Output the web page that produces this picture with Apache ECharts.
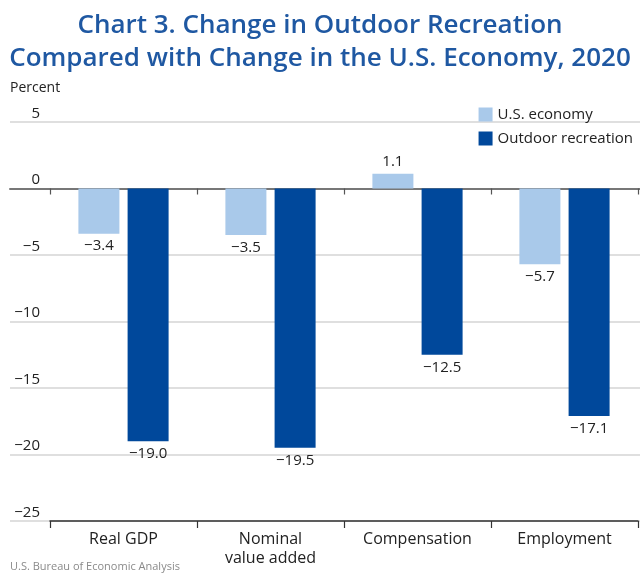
<!DOCTYPE html>
<html>
<head>
<meta charset="utf-8">
<script src="https://cdn.jsdelivr.net/npm/echarts@6/dist/echarts.min.js"></script>
<style>
  html, body { margin: 0; padding: 0; background: #fff; }
  #chart { width: 640px; height: 577px; }
</style>
</head>
<body>
<div id="chart"></div>
<script>
// Percent change in 2020
const categories = ['Real GDP', 'Nominal\nvalue added', 'Compensation', 'Employment'];
const usEconomy = [-3.4, -3.5, 1.1, -5.7];
const outdoorRecreation = [-19.0, -19.5, -12.5, -17.1];
const yTicks = { min: -25, max: 5, step: 5 };

const FONT = '"Open Sans", "Noto Sans", sans-serif';
const LIGHT = '#a9c9ea';
const DARK = '#00489b';

const minus = s => String(s).replace('-', '\u2212');

function barData(values) {
  return values.map(v => ({
    value: v,
    label: { position: v < 0 ? 'bottom' : 'top' }
  }));
}

const chart = echarts.init(document.getElementById('chart'), null, { renderer: 'canvas' });

const gridTop = 122, gridBottom = 56;

chart.setOption({
  animation: false,
  textStyle: { fontFamily: FONT },
  title: {
    text: 'Chart 3. Change in Outdoor Recreation\nCompared with Change in the U.S. Economy, 2020',
    left: 'center',
    top: 4,
    textStyle: {
      fontFamily: FONT,
      fontSize: 26,
      lineHeight: 33,
      fontWeight: 600,
      color: '#1f58a2'
    }
  },
  legend: {
    orient: 'vertical',
    right: 2,
    top: 102,
    icon: 'rect',
    itemWidth: 14,
    itemHeight: 14,
    itemGap: 9,
    textStyle: { fontFamily: FONT, fontSize: 15, color: '#222' },
    data: ['U.S. economy', 'Outdoor recreation']
  },
  graphic: [
    {
      type: 'text', left: 10, top: 81,
      style: { text: 'Percent', font: '14px ' + FONT, fill: '#222' }
    },
    {
      type: 'text', left: 10, top: 561,
      style: { text: 'U.S. Bureau of Economic Analysis', font: '11px ' + FONT, fill: '#8a8a8a' }
    }
  ],
  grid: [
    // full-width grid: gridlines, tick labels and the zero line
    { left: 10, right: 0, top: gridTop, bottom: gridBottom },
    // category grid: bars and category axis
    { left: 50, right: 2, top: gridTop, bottom: gridBottom }
  ],
  xAxis: [
    {
      gridIndex: 0, type: 'value', min: 0, max: 1,
      axisLine: { show: true, onZero: true, lineStyle: { color: '#777', width: 2 } },
      axisTick: { show: false }, axisLabel: { show: false }, splitLine: { show: false }
    },
    {
      gridIndex: 1, type: 'category', data: categories, position: 'bottom',
      axisLine: { show: true, onZero: false, lineStyle: { color: '#333', width: 1.5 } },
      axisTick: { show: true, interval: 0, length: 7, lineStyle: { color: '#333', width: 1.2 } },
      axisLabel: { interval: 0, margin: 9, fontSize: 16, lineHeight: 19, color: '#222', fontFamily: FONT },
      splitLine: { show: false }
    },
    {
      gridIndex: 1, type: 'category', data: categories, position: 'top',
      axisLine: { show: false, onZero: true },
      axisTick: { show: true, inside: true, interval: 0, length: 6, lineStyle: { color: '#555', width: 1.2 } },
      axisLabel: { show: false },
      splitLine: { show: false }
    }
  ],
  yAxis: [
    {
      gridIndex: 0, type: 'value', min: yTicks.min, max: yTicks.max, interval: yTicks.step,
      axisLine: { show: false }, axisTick: { show: false },
      axisLabel: {
        inside: true, margin: 30, align: 'right', verticalAlign: 'bottom',
        fontSize: 15, lineHeight: 15, padding: [0, 0, 1, 0], color: '#222', fontFamily: FONT,
        formatter: v => minus(v)
      },
      splitLine: { show: true, lineStyle: { color: '#d4d4d4', width: 1.5 } }
    },
    {
      gridIndex: 1, type: 'value', min: yTicks.min, max: yTicks.max, interval: yTicks.step,
      show: false, splitLine: { show: false }
    }
  ],
  series: [
    {
      name: 'U.S. economy', type: 'bar', xAxisIndex: 1, yAxisIndex: 1,
      data: barData(usEconomy),
      barWidth: 41, barGap: '20%',
      itemStyle: { color: LIGHT },
      label: {
        show: true, distance: 5, fontSize: 15, color: '#222', fontFamily: FONT,
        formatter: p => minus(p.value.toFixed(1))
      }
    },
    {
      name: 'Outdoor recreation', type: 'bar', xAxisIndex: 1, yAxisIndex: 1,
      data: barData(outdoorRecreation),
      barWidth: 41, barGap: '20%',
      itemStyle: { color: DARK },
      label: {
        show: true, distance: 5, fontSize: 15, color: '#222', fontFamily: FONT,
        formatter: p => minus(p.value.toFixed(1))
      }
    }
  ]
});
</script>
</body>
</html>
